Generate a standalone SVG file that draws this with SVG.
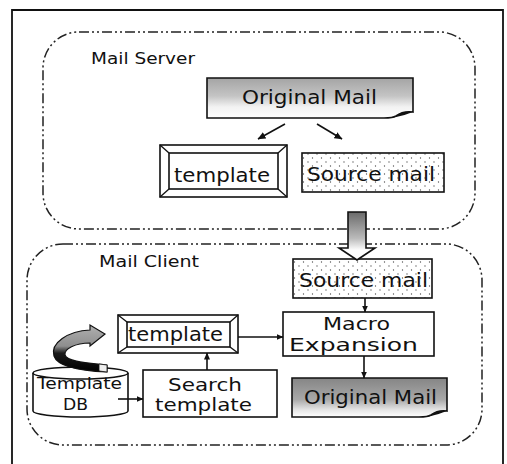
<svg xmlns="http://www.w3.org/2000/svg" width="507" height="464" viewBox="0 0 507 464">
  <style>
    .lbl { font-family: "DejaVu Sans", "Liberation Sans", sans-serif; font-size: 20px; fill: #111; }
    .two { font-size: 17px; }
    .db { font-size: 15px; }
    .area { font-family: "DejaVu Sans", "Liberation Sans", sans-serif; font-size: 16px; fill: #111; }
    .box { fill: #fff; stroke: #111; stroke-width: 1.6; }
    .zone { fill: none; stroke: #222; stroke-width: 1.5; stroke-dasharray: 10 3 2 3 2 3; }
    .wire { fill: none; stroke: #111; stroke-width: 1.6; }
    .bevel { stroke: #111; stroke-width: 1.3; }
  </style>
  <defs>
    <marker id="head" viewBox="0 0 8 7" refX="7.5" refY="3.5" markerWidth="8" markerHeight="7" markerUnits="userSpaceOnUse" orient="auto">
      <path d="M0,0 L8,3.5 L0,7 Z" fill="#111"/>
    </marker>
    <marker id="dot" viewBox="0 0 7 7" refX="6.5" refY="3.5" markerWidth="7" markerHeight="7" markerUnits="userSpaceOnUse" orient="auto">
      <path d="M0,0.5 L7,3.5 L0,6.5 Z" fill="#111"/>
    </marker>
    <linearGradient id="mailLight" x1="0" y1="0" x2="0" y2="1">
      <stop offset="0" stop-color="#a4a4a4"/>
      <stop offset="0.45" stop-color="#c4c4c4"/>
      <stop offset="0.72" stop-color="#f2f2f2"/>
      <stop offset="1" stop-color="#ffffff"/>
    </linearGradient>
    <linearGradient id="mailDark" x1="0" y1="0" x2="0" y2="1">
      <stop offset="0" stop-color="#858585"/>
      <stop offset="0.55" stop-color="#a8a8a8"/>
      <stop offset="0.82" stop-color="#e6e6e6"/>
      <stop offset="1" stop-color="#ffffff"/>
    </linearGradient>
    <linearGradient id="shaft" x1="0" y1="0" x2="0" y2="1">
      <stop offset="0" stop-color="#6a6a6a"/>
      <stop offset="0.55" stop-color="#bbb"/>
      <stop offset="0.8" stop-color="#fff"/>
      <stop offset="1" stop-color="#fff"/>
    </linearGradient>
    <linearGradient id="ribbon" gradientUnits="userSpaceOnUse" x1="0" y1="325" x2="0" y2="372">
      <stop offset="0" stop-color="#b0b0b0"/>
      <stop offset="0.45" stop-color="#8e8e8e"/>
      <stop offset="0.6" stop-color="#1a1a1a"/>
      <stop offset="1" stop-color="#000"/>
    </linearGradient>
    <pattern id="speckle" width="9" height="8" patternUnits="userSpaceOnUse">
      <rect width="9" height="8" fill="#fff"/>
      <circle cx="2" cy="2" r="0.65" fill="#555"/>
      <circle cx="6.5" cy="6" r="0.65" fill="#555"/>
    </pattern>
  </defs>

  <rect width="507" height="464" fill="#fff"/>

  <!-- outer frame (open at the bottom edge) -->
  <path id="frame" d="M12 470 V10 H503 V470" fill="none" stroke="#111" stroke-width="1.8"/>

  <!-- dashed zones -->
  <g id="zone-server">
    <rect class="zone" x="43" y="32" width="432" height="197" rx="36" ry="36"/>
    <text class="area" x="91" y="64" textLength="104" lengthAdjust="spacingAndGlyphs">Mail Server</text>
  </g>
  <g id="zone-client">
    <rect class="zone" x="27" y="244" width="455" height="201" rx="36" ry="36"/>
    <text class="area" x="99" y="267" textLength="100" lengthAdjust="spacingAndGlyphs">Mail Client</text>
  </g>

  <!-- server side nodes -->
  <g id="server-original-mail">
    <path d="M207 78 H413 V112 C406 111 400 113 396 116 C393 118 389 118 384 118 H207 Z" fill="url(#mailLight)" stroke="#111" stroke-width="1.6"/>
    <path d="M396 116 C401 112 407 111 413 112 C407 114 402 116 396 117 Z" fill="#111"/>
    <text class="lbl" x="242" y="104" textLength="135" lengthAdjust="spacingAndGlyphs">Original Mail</text>
  </g>
  <g id="server-template">
    <rect class="box" x="160" y="145" width="127" height="52" stroke-width="2"/>
    <rect class="box" x="169" y="153" width="109" height="36"/>
    <line class="bevel" x1="160" y1="145" x2="169" y2="153"/>
    <line class="bevel" x1="287" y1="145" x2="278" y2="153"/>
    <line class="bevel" x1="160" y1="197" x2="169" y2="189"/>
    <line class="bevel" x1="287" y1="197" x2="278" y2="189"/>
    <text class="lbl" x="174" y="182" textLength="96" lengthAdjust="spacingAndGlyphs">template</text>
  </g>
  <g id="server-source-mail">
    <rect x="302" y="153" width="142" height="39" fill="url(#speckle)" stroke="#111" stroke-width="1.6"/>
    <text class="lbl" x="307" y="181" textLength="128" lengthAdjust="spacingAndGlyphs">Source mail</text>
  </g>

  <!-- client side nodes -->
  <g id="client-source-mail">
    <rect x="293" y="259" width="139" height="39" fill="url(#speckle)" stroke="#111" stroke-width="1.6"/>
    <text class="lbl" x="299" y="287" textLength="129" lengthAdjust="spacingAndGlyphs">Source mail</text>
  </g>
  <g id="macro-expansion">
    <rect class="box" x="283" y="312" width="151" height="44"/>
    <text class="lbl two" x="323" y="330" textLength="67" lengthAdjust="spacingAndGlyphs">Macro</text>
    <text class="lbl two" x="289" y="351" textLength="129" lengthAdjust="spacingAndGlyphs">Expansion</text>
  </g>
  <g id="client-original-mail">
    <path d="M292 378 H447 V411 C440 410 435 412 431 415 C428 417 424 417 419 417 H292 Z" fill="url(#mailDark)" stroke="#111" stroke-width="1.6"/>
    <path d="M431 415 C436 411 442 410 447 411 C441 413 436 415 431 416 Z" fill="#111"/>
    <text class="lbl" x="304" y="404" textLength="133" lengthAdjust="spacingAndGlyphs">Original Mail</text>
  </g>
  <g id="client-template">
    <rect class="box" x="118" y="315" width="120" height="38" stroke-width="2"/>
    <rect class="box" x="127" y="322" width="103" height="25"/>
    <line class="bevel" x1="118" y1="315" x2="127" y2="322"/>
    <line class="bevel" x1="238" y1="315" x2="230" y2="322"/>
    <line class="bevel" x1="118" y1="353" x2="127" y2="347"/>
    <line class="bevel" x1="238" y1="353" x2="230" y2="347"/>
    <text class="lbl" x="128" y="341" textLength="95" lengthAdjust="spacingAndGlyphs">template</text>
  </g>
  <g id="search-template">
    <rect class="box" x="143" y="370" width="134" height="47"/>
    <text class="lbl two" x="168" y="391" textLength="74" lengthAdjust="spacingAndGlyphs">Search</text>
    <text class="lbl two" x="155" y="411" textLength="97" lengthAdjust="spacingAndGlyphs">template</text>
  </g>
  <g id="template-db">
    <path d="M33 373 V411 A47.5 6 0 0 0 128 411 V373 A47.5 6 0 0 0 33 373 Z" class="box"/>
    <path d="M33 373 A47.5 6 0 0 0 128 373" class="wire"/>
    <text class="lbl db" x="37" y="389" textLength="85" lengthAdjust="spacingAndGlyphs">Template</text>
    <text class="lbl db" x="63" y="410" textLength="25" lengthAdjust="spacingAndGlyphs">DB</text>
    <!-- curled ribbon arrow leaving the database -->
    <path d="M107 372 C85 371 58 368 54 356 C50 343 68 331 90 330 L90 325 L105 334 L90 346 L90 343 C75 343 64 349 65 355 C67 362 90 363 107 365 Z" fill="url(#ribbon)" stroke="#111" stroke-width="1.2"/>
    <path d="M99 364 L107 365 L107 372 L99 371 Z" fill="#eee" stroke="#111" stroke-width="0.8"/>
  </g>

  <!-- connectors -->
  <g id="connectors">
    <line class="wire" x1="285" y1="124" x2="258" y2="139" marker-end="url(#head)"/>
    <line class="wire" x1="317" y1="124" x2="342" y2="139" marker-end="url(#head)"/>
    <path d="M348 212 H366 V248 H375 L357 260 L339 248 H348 Z" fill="url(#shaft)" stroke="#111" stroke-width="1.6"/>
    <line class="wire" x1="365" y1="298" x2="365" y2="312" marker-end="url(#dot)"/>
    <line class="wire" x1="364" y1="356" x2="364" y2="378" marker-end="url(#dot)"/>
    <line class="wire" x1="238" y1="337" x2="283" y2="337" marker-end="url(#dot)"/>
    <line class="wire" x1="207" y1="370" x2="207" y2="353" marker-end="url(#dot)"/>
    <line class="wire" x1="118" y1="399" x2="143" y2="399" marker-end="url(#dot)"/>
  </g>
</svg>
